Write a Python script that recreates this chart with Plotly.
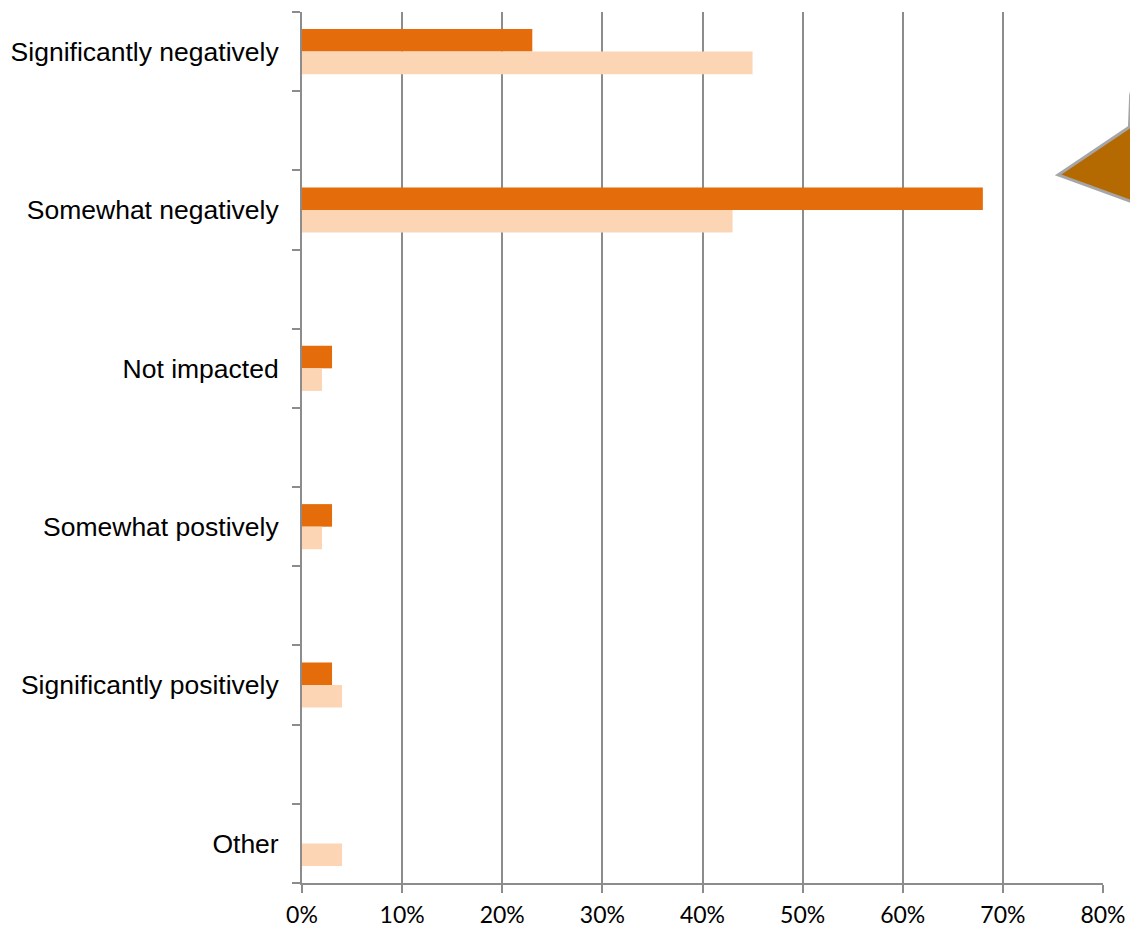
import plotly.graph_objects as go

# Survey responses: impact categories and the share choosing each, per group
categories = [
    "Significantly negatively",
    "Somewhat negatively",
    "Not impacted",
    "Somewhat postively",
    "Significantly positively",
    "Other",
]
series_a = [0.23, 0.68, 0.03, 0.03, 0.03, 0.0]
series_b = [0.45, 0.43, 0.02, 0.02, 0.04, 0.04]
x_ticks = [0.0, 0.1, 0.2, 0.3, 0.4, 0.5, 0.6, 0.7, 0.8]

# each category sits on an even row, with an empty row between neighbours
rows = [2 * i for i in range(len(categories))]
n_rows = 2 * len(categories) - 1

DARK = "#E46C0A"
LIGHT = "#FCD5B5"
GRID = "#8C8C8C"

fig = go.Figure()
fig.add_trace(go.Bar(y=rows, x=series_a, orientation="h", marker=dict(color=DARK, line_width=0),
                     showlegend=False))
fig.add_trace(go.Bar(y=rows, x=series_b, orientation="h", marker=dict(color=LIGHT, line_width=0),
                     showlegend=False))

fig.update_layout(
    width=1130,
    height=930,
    margin=dict(l=302, r=27, t=12, b=47),
    paper_bgcolor="white",
    plot_bgcolor="white",
    barmode="group",
    # positions are two rows apart, so the gap is relative to a two-row slot
    bargap=0.715,
    bargroupgap=0,
    font=dict(family="Liberation Sans, Arial, sans-serif", color="black"),
)

fig.update_xaxes(
    range=[0, 0.8],
    tickvals=x_ticks,
    tickformat=".0%",
    tickfont=dict(family="Lato, Carlito, sans-serif", size=23, color="black"),
    showgrid=True,
    gridcolor=GRID,
    gridwidth=2,
    showline=True,
    linecolor=GRID,
    linewidth=2,
    ticks="outside",
    ticklen=8,
    tickwidth=2,
    tickcolor=GRID,
    zeroline=False,
    ticklabelstandoff=2,
    automargin=False,
)

fig.update_yaxes(
    range=[n_rows - 0.5, -0.5],
    tickvals=rows,
    ticktext=categories,
    tickfont=dict(family="Liberation Sans, Arial, sans-serif", size=26.5, color="black"),
    ticks="",
    showgrid=False,
    zeroline=False,
    showline=True,
    linecolor=GRID,
    linewidth=2,
    ticklabelstandoff=16,
    automargin=False,
    minor=dict(
        tickvals=[r - 0.5 for r in range(n_rows + 1)],
        ticks="outside",
        ticklen=8,
        tickwidth=2,
        tickcolor=GRID,
        showgrid=False,
    ),
)

# pointer of a callout shape entering from the right edge
fig.add_shape(
    type="path",
    xref="paper",
    yref="paper",
    path="M 0.9439 0.8129 L 1.0330 0.8680 L 1.08 0.8680 L 1.08 0.7680 L 1.0337 0.7829 Z",
    fillcolor="#B46A00",
    line=dict(color="#A6A6A6", width=3),
    layer="above",
)
fig.add_shape(
    type="path",
    xref="paper",
    yref="paper",
    path="M 1.0330 0.8680 L 1.0345 0.9040 Q 1.0355 0.9100 1.0380 0.9150",
    line=dict(color="#A6A6A6", width=3),
    layer="above",
)

fig.write_html("out.html")
